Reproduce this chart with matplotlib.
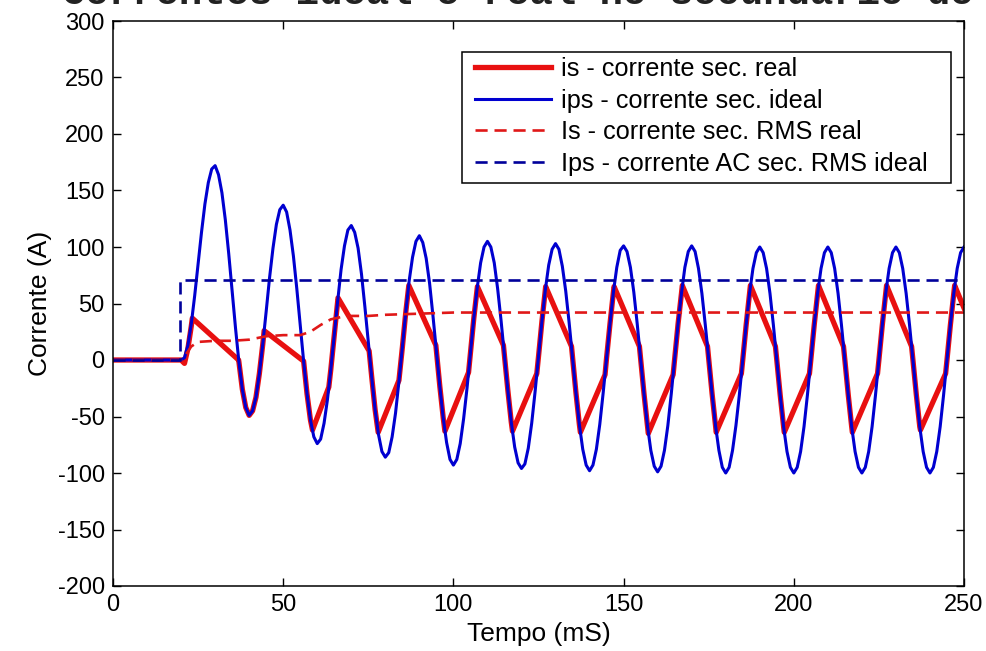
import numpy as np
import matplotlib
matplotlib.use("Agg")
import matplotlib.pyplot as plt
from matplotlib.patches import Rectangle

# ideal secondary current, one value per ms from t = 20 ms to 250 ms
tempo = np.arange(20, 251)
ips = [0, 2, 13, 32, 57, 85, 113, 138, 157, 169,
       172, 164, 148, 124, 94, 61, 28, -2, -26, -42,
       -49, -45, -33, -12, 14, 43, 73, 99, 120, 133,
       137, 131, 115, 92, 63, 31, -1, -30, -53, -68,
       -74, -70, -56, -35, -8, 22, 52, 80, 101, 115,
       119, 113, 99, 76, 47, 16, -15, -44, -66, -81,
       -86, -82, -68, -47, -19, 11, 42, 70, 91, 105,
       110, 104, 90, 68, 39, 8, -23, -51, -73, -88,
       -93, -88, -74, -52, -25, 6, 37, 64, 86, 100,
       105, 100, 86, 63, 35, 4, -27, -55, -77, -91,
       -96, -92, -78, -56, -28, 3, 34, 62, 84, 98,
       103, 98, 83, 61, 33, 2, -29, -57, -79, -93,
       -98, -93, -79, -57, -29, 2, 32, 60, 82, 97,
       101, 96, 82, 60, 32, 1, -30, -58, -80, -94,
       -99, -94, -80, -58, -30, 1, 32, 59, 82, 96,
       101, 96, 81, 59, 31, 1, -30, -58, -80, -95,
       -100, -95, -80, -58, -31, 0, 31, 59, 81, 95,
       100, 95, 81, 59, 31, 0, -31, -59, -81, -95,
       -100, -95, -81, -59, -31, 0, 31, 59, 81, 95,
       100, 95, 81, 59, 31, 0, -31, -59, -81, -95,
       -100, -95, -81, -59, -31, 0, 31, 59, 81, 95,
       100, 95, 81, 59, 31, 0, -31, -59, -81, -95,
       -100, -95, -81, -59, -31, 0, 31, 59, 81, 95,
       100]

# real secondary current (saturated CT), read as vertices
tempo_is = [0, 20, 21, 22, 23, 23.3,
            36.9, 37, 38, 39, 40, 41, 42, 43, 44, 44.4,
            56, 57, 58, 58.6,
            63.4, 64, 65, 66, 66.1,
            75.25, 76, 77, 77.9,
            84, 85, 86, 86.9,
            94.85, 96, 97, 97.5,
            104.45, 105, 106, 107.05,
            114.7, 116, 117, 117.35,
            124.5, 125, 126, 127, 127.1,
            134.7, 136, 137, 137.3,
            144.55, 145, 146, 147, 147.2,
            154.65, 156, 157, 157.25,
            164.55, 165, 166, 167, 167.25,
            174.65, 175, 176, 177, 177.2,
            184.6, 185, 186, 187, 187.25,
            194.6, 195, 196, 197, 197.2,
            204.6, 205, 206, 207, 207.25,
            214.6, 215, 216, 217, 217.2,
            224.6, 225, 226, 227, 227.25,
            234.6, 235, 236, 237, 237.2,
            244.6, 245, 246, 247, 247.25,
            250]
is_real = [0, 0, -3, 10, 30, 37,
           0, -2, -26, -42, -49, -45, -33, -12, 14, 26,
           -1, -30, -53, -62,
           -24, -8, 22, 52, 55,
           8, -15, -44, -64,
           -18, 11, 42, 66,
           13, -23, -51, -63,
           -11, 6, 37, 65,
           13, -27, -55, -63,
           -12, 3, 34, 62, 65,
           12, -29, -57, -64,
           -13, 2, 32, 60, 65,
           12, -30, -58, -65,
           -13, 1, 32, 59, 66,
           12, 1, -30, -58, -64,
           -12, 0, 31, 59, 66,
           12, 0, -31, -59, -64,
           -12, 0, 31, 59, 66,
           12, 0, -31, -59, -64,
           -12, 0, 31, 59, 66,
           12, 0, -31, -59, -62,
           -12, 0, 31, 59, 66,
           46]

# RMS values
tempo_Is = [0, 20, 21, 23, 25, 30, 35, 40, 45, 50, 55, 58, 61, 64, 67, 70, 75, 80, 90, 100, 250]
Is_rms = [0, 0, 3, 12, 16, 17, 17, 18, 21, 22, 22, 25, 31, 36, 38, 39, 39, 40, 41, 42, 42]
tempo_Ips = [0, 19.6, 19.6, 250]
Ips_rms = [0, 0, 70.7, 70.7]

labels = ["is - corrente sec. real",
          "ips - corrente sec. ideal",
          "Is - corrente sec. RMS real",
          "Ips - corrente AC sec. RMS ideal"]


def main():
    plt.rcParams["font.family"] = ["Liberation Sans", "DejaVu Sans"]
    plt.rcParams["axes.unicode_minus"] = False

    W, H = 987, 651
    fig = plt.figure(figsize=(W / 100, H / 100), dpi=100)
    ax = fig.add_axes([113 / W, 65 / H, 851 / W, 565 / H])

    dash = (0, (4.6, 2.6))
    ax.plot(tempo_is, is_real, color="#e81010", lw=3.8, label=labels[0])
    ax.plot(np.concatenate([[0], tempo]), [0] + ips, color="#0000d0", lw=2.2,
            label=labels[1])
    ax.plot(tempo_Is, Is_rms, color="#e01818", lw=1.9, ls=dash, label=labels[2])
    ax.plot(tempo_Ips, Ips_rms, color="#00009a", lw=1.9, ls=dash, label=labels[3])

    ax.set_xlim(0, 250)
    ax.set_ylim(-200, 300)
    ax.set_xticks(np.arange(0, 251, 50))
    ax.set_yticks(np.arange(-200, 301, 50))
    ax.tick_params(direction="in", top=True, right=True, length=6,
                   width=1, labelsize=17, pad=6)
    for s in ax.spines.values():
        s.set_linewidth(1.1)

    ax.set_xlabel("Tempo (mS)", fontsize=19, labelpad=4)
    ax.set_ylabel("Corrente (A)", fontsize=19, labelpad=4)

    # legend box drawn separately so its padding matches the original
    box = Rectangle((462 / W, 1 - 183 / H), 489 / W, 131 / H,
                    transform=fig.transFigure, facecolor="white",
                    edgecolor="black", lw=1.1, zorder=4, clip_on=False)
    ax.add_patch(box)
    leg = ax.legend(loc="upper left", bbox_to_anchor=(475 / W, 1 - 57 / H),
                    bbox_transform=fig.transFigure, borderaxespad=0,
                    borderpad=0, fontsize=18.2, handlelength=3.0,
                    handletextpad=0.42, labelspacing=0.3, frameon=False)
    leg.set_zorder(5)

    # title is cut off at the top edge of the original image
    fig.text(0.56, 1 - 4 / H, "Correntes ideal e real no secundário do TC",
             family="Liberation Mono", weight="bold", fontsize=28,
             ha="center", va="baseline", color="#222222")

    fig.savefig("out.png", dpi=100)


if __name__ == "__main__":
    main()
